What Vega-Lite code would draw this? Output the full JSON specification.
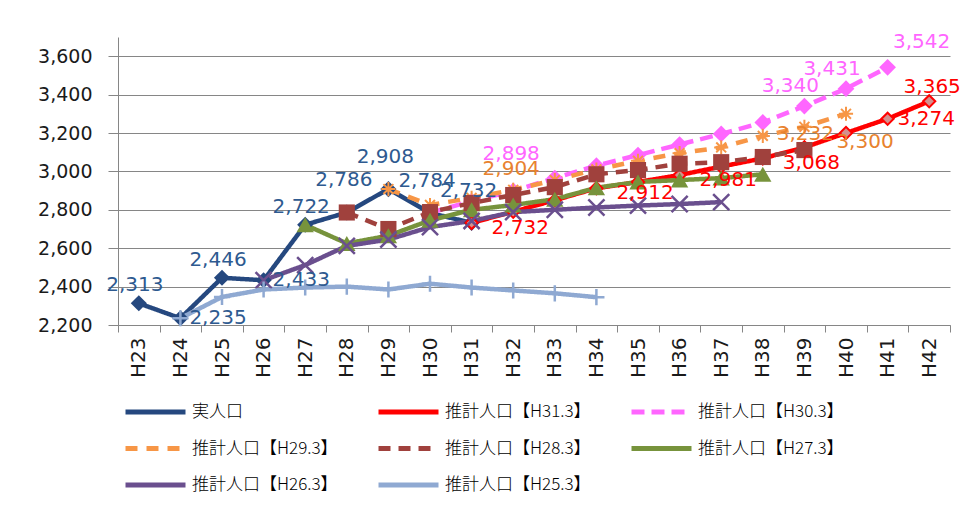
{
  "$schema": "https://vega.github.io/schema/vega-lite/v6.json",
  "width": 832,
  "height": 288,
  "autosize": {"type": "none"},
  "padding": {"left": 118, "top": 37, "right": 13, "bottom": 181},
  "background": "white",
  "config": {"view": {"stroke": null}, "font": "DejaVu Sans"},
  "data": {"values": [
    {"series": "実人口", "year": "H23", "value": 2313},
    {"series": "実人口", "year": "H24", "value": 2235},
    {"series": "実人口", "year": "H25", "value": 2446},
    {"series": "実人口", "year": "H26", "value": 2433},
    {"series": "実人口", "year": "H27", "value": 2722},
    {"series": "実人口", "year": "H28", "value": 2786},
    {"series": "実人口", "year": "H29", "value": 2908},
    {"series": "実人口", "year": "H30", "value": 2784},
    {"series": "実人口", "year": "H31", "value": 2732},
    {"series": "推計人口【H31.3】", "year": "H31", "value": 2732},
    {"series": "推計人口【H31.3】", "year": "H32", "value": 2790},
    {"series": "推計人口【H31.3】", "year": "H33", "value": 2850},
    {"series": "推計人口【H31.3】", "year": "H34", "value": 2912},
    {"series": "推計人口【H31.3】", "year": "H35", "value": 2945},
    {"series": "推計人口【H31.3】", "year": "H36", "value": 2981},
    {"series": "推計人口【H31.3】", "year": "H37", "value": 3025},
    {"series": "推計人口【H31.3】", "year": "H38", "value": 3068},
    {"series": "推計人口【H31.3】", "year": "H39", "value": 3125},
    {"series": "推計人口【H31.3】", "year": "H40", "value": 3200},
    {"series": "推計人口【H31.3】", "year": "H41", "value": 3274},
    {"series": "推計人口【H31.3】", "year": "H42", "value": 3365},
    {"series": "推計人口【H30.3】", "year": "H30", "value": 2784},
    {"series": "推計人口【H30.3】", "year": "H31", "value": 2845},
    {"series": "推計人口【H30.3】", "year": "H32", "value": 2898},
    {"series": "推計人口【H30.3】", "year": "H33", "value": 2965},
    {"series": "推計人口【H30.3】", "year": "H34", "value": 3030},
    {"series": "推計人口【H30.3】", "year": "H35", "value": 3085},
    {"series": "推計人口【H30.3】", "year": "H36", "value": 3140},
    {"series": "推計人口【H30.3】", "year": "H37", "value": 3195},
    {"series": "推計人口【H30.3】", "year": "H38", "value": 3255},
    {"series": "推計人口【H30.3】", "year": "H39", "value": 3340},
    {"series": "推計人口【H30.3】", "year": "H40", "value": 3431},
    {"series": "推計人口【H30.3】", "year": "H41", "value": 3542},
    {"series": "推計人口【H29.3】", "year": "H29", "value": 2908},
    {"series": "推計人口【H29.3】", "year": "H30", "value": 2825},
    {"series": "推計人口【H29.3】", "year": "H31", "value": 2862},
    {"series": "推計人口【H29.3】", "year": "H32", "value": 2904},
    {"series": "推計人口【H29.3】", "year": "H33", "value": 2955},
    {"series": "推計人口【H29.3】", "year": "H34", "value": 3010},
    {"series": "推計人口【H29.3】", "year": "H35", "value": 3055},
    {"series": "推計人口【H29.3】", "year": "H36", "value": 3095},
    {"series": "推計人口【H29.3】", "year": "H37", "value": 3125},
    {"series": "推計人口【H29.3】", "year": "H38", "value": 3185},
    {"series": "推計人口【H29.3】", "year": "H39", "value": 3232},
    {"series": "推計人口【H29.3】", "year": "H40", "value": 3300},
    {"series": "推計人口【H28.3】", "year": "H28", "value": 2786},
    {"series": "推計人口【H28.3】", "year": "H29", "value": 2700},
    {"series": "推計人口【H28.3】", "year": "H30", "value": 2788},
    {"series": "推計人口【H28.3】", "year": "H31", "value": 2835},
    {"series": "推計人口【H28.3】", "year": "H32", "value": 2877},
    {"series": "推計人口【H28.3】", "year": "H33", "value": 2918},
    {"series": "推計人口【H28.3】", "year": "H34", "value": 2985},
    {"series": "推計人口【H28.3】", "year": "H35", "value": 3007},
    {"series": "推計人口【H28.3】", "year": "H36", "value": 3040},
    {"series": "推計人口【H28.3】", "year": "H37", "value": 3048},
    {"series": "推計人口【H28.3】", "year": "H38", "value": 3075},
    {"series": "推計人口【H28.3】", "year": "H39", "value": 3111},
    {"series": "推計人口【H27.3】", "year": "H27", "value": 2722},
    {"series": "推計人口【H27.3】", "year": "H28", "value": 2625},
    {"series": "推計人口【H27.3】", "year": "H29", "value": 2665},
    {"series": "推計人口【H27.3】", "year": "H30", "value": 2745},
    {"series": "推計人口【H27.3】", "year": "H31", "value": 2800},
    {"series": "推計人口【H27.3】", "year": "H32", "value": 2825},
    {"series": "推計人口【H27.3】", "year": "H33", "value": 2855},
    {"series": "推計人口【H27.3】", "year": "H34", "value": 2915},
    {"series": "推計人口【H27.3】", "year": "H35", "value": 2945},
    {"series": "推計人口【H27.3】", "year": "H36", "value": 2955},
    {"series": "推計人口【H27.3】", "year": "H37", "value": 2965},
    {"series": "推計人口【H27.3】", "year": "H38", "value": 2985},
    {"series": "推計人口【H26.3】", "year": "H26", "value": 2433},
    {"series": "推計人口【H26.3】", "year": "H27", "value": 2512},
    {"series": "推計人口【H26.3】", "year": "H28", "value": 2612},
    {"series": "推計人口【H26.3】", "year": "H29", "value": 2645},
    {"series": "推計人口【H26.3】", "year": "H30", "value": 2710},
    {"series": "推計人口【H26.3】", "year": "H31", "value": 2742},
    {"series": "推計人口【H26.3】", "year": "H32", "value": 2788},
    {"series": "推計人口【H26.3】", "year": "H33", "value": 2800},
    {"series": "推計人口【H26.3】", "year": "H34", "value": 2812},
    {"series": "推計人口【H26.3】", "year": "H35", "value": 2822},
    {"series": "推計人口【H26.3】", "year": "H36", "value": 2830},
    {"series": "推計人口【H26.3】", "year": "H37", "value": 2840},
    {"series": "推計人口【H25.3】", "year": "H24", "value": 2235},
    {"series": "推計人口【H25.3】", "year": "H25", "value": 2346},
    {"series": "推計人口【H25.3】", "year": "H26", "value": 2385},
    {"series": "推計人口【H25.3】", "year": "H27", "value": 2395},
    {"series": "推計人口【H25.3】", "year": "H28", "value": 2400},
    {"series": "推計人口【H25.3】", "year": "H29", "value": 2385},
    {"series": "推計人口【H25.3】", "year": "H30", "value": 2415},
    {"series": "推計人口【H25.3】", "year": "H31", "value": 2395},
    {"series": "推計人口【H25.3】", "year": "H32", "value": 2380},
    {"series": "推計人口【H25.3】", "year": "H33", "value": 2365},
    {"series": "推計人口【H25.3】", "year": "H34", "value": 2345}
  ]},
  "encoding": {
    "x": {
      "field": "year", "type": "nominal", "bandPosition": 0.5,
      "scale": {"type": "band", "paddingInner": 0, "paddingOuter": 0,
        "domain": ["H23","H24","H25","H26","H27","H28","H29","H30","H31","H32","H33","H34","H35","H36","H37","H38","H39","H40","H41","H42"]},
      "axis": {"title": null, "labelAngle": -90, "labelFontSize": 20, "labelColor": "#1a1a1a", "tickBand": "extent", "tickSize": 7, "tickColor": "#868686", "domainColor": "#868686", "grid": false, "labelPadding": 5}
    },
    "y": {
      "field": "value", "type": "quantitative",
      "scale": {"domain": [2200, 3700], "nice": false, "zero": false},
      "axis": {"title": null, "values": [2200,2400,2600,2800,3000,3200,3400,3600], "format": ",.0f", "labelFontSize": 19, "labelColor": "#1a1a1a", "tickSize": 10, "tickColor": "#868686", "domainColor": "#868686", "gridColor": "#868686", "labelPadding": 16}
    }
  },
  "layer": [
    {
      "mark": {"type": "line", "strokeWidth": 4.5},
      "encoding": {
        "color": {"field": "series", "type": "nominal",
          "scale": {"domain": ["実人口","推計人口【H31.3】","推計人口【H30.3】","推計人口【H29.3】","推計人口【H28.3】","推計人口【H27.3】","推計人口【H26.3】","推計人口【H25.3】"],
            "range": ["#25487F","#FF0000","#FF66FF","#F79646","#A0413D","#77933C","#6A4F8E","#8FA9D2"]},
          "legend": {"orient": "none", "direction": "horizontal", "legendX": 5, "legendY": 364, "columns": 3, "title": null, "symbolType": "stroke", "symbolSize": 3600, "symbolStrokeWidth": 5, "clipHeight": 22, "labelFontSize": 17, "labelFont": "Noto Sans CJK JP", "labelFontWeight": 300, "labelColor": "#000000", "labelOffset": 4, "columnPadding": 38, "rowPadding": 14.5, "labelLimit": 300}},
        "strokeDash": {"field": "series", "type": "nominal",
          "scale": {"domain": ["実人口","推計人口【H31.3】","推計人口【H30.3】","推計人口【H29.3】","推計人口【H28.3】","推計人口【H27.3】","推計人口【H26.3】","推計人口【H25.3】"],
            "range": [[1,0],[1,0],[13,7],[12,9],[12,8],[1,0],[1,0],[1,0]]}}
      }
    },
    {"transform": [{"filter": "datum.series === '実人口'"}], "mark": {"type": "point", "shape": "diamond", "filled": true, "color": "#25487F", "size": 260, "opacity": 1}},
    {"transform": [{"filter": "datum.series === '推計人口【H31.3】'"}], "mark": {"type": "point", "shape": "diamond", "filled": true, "fill": "#D4908E", "stroke": "#FF0000", "strokeWidth": 2, "size": 150, "opacity": 1}},
    {"transform": [{"filter": "datum.series === '推計人口【H30.3】'"}], "mark": {"type": "point", "shape": "diamond", "filled": true, "color": "#FF66FF", "size": 280, "opacity": 1}},
    {"transform": [{"filter": "datum.series === '推計人口【H29.3】'"}], "mark": {"type": "point", "shape": "M-1,0H1M0,-1V1M-0.7,-0.7L0.7,0.7M-0.7,0.7L0.7,-0.7", "filled": false, "color": "#F79646", "strokeWidth": 2, "size": 200, "opacity": 1}},
    {"transform": [{"filter": "datum.series === '推計人口【H28.3】'"}], "mark": {"type": "point", "shape": "square", "filled": true, "color": "#A0413D", "size": 260, "opacity": 1}},
    {"transform": [{"filter": "datum.series === '推計人口【H27.3】'"}], "mark": {"type": "point", "shape": "triangle-up", "filled": true, "color": "#77933C", "size": 300, "opacity": 1}},
    {"transform": [{"filter": "datum.series === '推計人口【H26.3】'"}], "mark": {"type": "point", "shape": "M-1,-1L1,1M-1,1L1,-1", "filled": false, "color": "#6A4F8E", "strokeWidth": 2.5, "size": 260, "opacity": 1}},
    {"transform": [{"filter": "datum.series === '推計人口【H25.3】'"}], "mark": {"type": "point", "shape": "M-1,0H1M0,-1V1", "filled": false, "color": "#8FA9D2", "strokeWidth": 2.5, "size": 260, "opacity": 1}},
    {"transform": [{"filter": "datum.series === '実人口' && indexof(['H23','H25','H27'], datum.year) >= 0"}],
     "mark": {"type": "text", "fontSize": 20, "color": "#2E5A90", "dx": -4, "dy": -18, "baseline": "middle", "align": "center"},
     "encoding": {"text": {"field": "value", "type": "quantitative", "format": ","}}},
    {"transform": [{"filter": "datum.series === '実人口' && indexof(['H28','H29','H30','H31'], datum.year) >= 0"}],
     "mark": {"type": "text", "fontSize": 20, "color": "#2E5A90", "dx": -3, "dy": -32, "baseline": "middle", "align": "center"},
     "encoding": {"text": {"field": "value", "type": "quantitative", "format": ","}}},
    {"transform": [{"filter": "datum.series === '実人口' && indexof(['H24','H26'], datum.year) >= 0"}],
     "mark": {"type": "text", "fontSize": 20, "color": "#2E5A90", "dx": 9, "dy": 0, "baseline": "middle", "align": "left"},
     "encoding": {"text": {"field": "value", "type": "quantitative", "format": ","}}},
    {"transform": [{"filter": "datum.series === '推計人口【H31.3】' && indexof(['H31','H34','H36','H38'], datum.year) >= 0"}],
     "mark": {"type": "text", "fontSize": 20, "color": "#FF0000", "dx": 20, "dy": 5, "baseline": "middle", "align": "left"},
     "encoding": {"text": {"field": "value", "type": "quantitative", "format": ","}}},
    {"transform": [{"filter": "datum.series === '推計人口【H31.3】' && datum.year === 'H41'"}],
     "mark": {"type": "text", "fontSize": 20, "color": "#FF0000", "dx": 10, "dy": 0, "baseline": "middle", "align": "left"},
     "encoding": {"text": {"field": "value", "type": "quantitative", "format": ","}}},
    {"transform": [{"filter": "datum.series === '推計人口【H31.3】' && datum.year === 'H42'"}],
     "mark": {"type": "text", "fontSize": 20, "color": "#FF0000", "dx": 3, "dy": -14, "baseline": "middle", "align": "center"},
     "encoding": {"text": {"field": "value", "type": "quantitative", "format": ","}}},
    {"transform": [{"filter": "datum.series === '推計人口【H29.3】' && datum.year === 'H32'"}],
     "mark": {"type": "text", "fontSize": 20, "color": "#E8822E", "dx": -2, "dy": -21, "baseline": "middle", "align": "center"},
     "encoding": {"text": {"field": "value", "type": "quantitative", "format": ","}}},
    {"transform": [{"filter": "datum.series === '推計人口【H29.3】' && datum.year === 'H39'"}],
     "mark": {"type": "text", "fontSize": 20, "color": "#E8822E", "dx": 1, "dy": 7, "baseline": "middle", "align": "center"},
     "encoding": {"text": {"field": "value", "type": "quantitative", "format": ","}}},
    {"transform": [{"filter": "datum.series === '推計人口【H29.3】' && datum.year === 'H40'"}],
     "mark": {"type": "text", "fontSize": 20, "color": "#E8822E", "dx": 19, "dy": 28, "baseline": "middle", "align": "center"},
     "encoding": {"text": {"field": "value", "type": "quantitative", "format": ","}}},
    {"transform": [{"filter": "datum.series === '推計人口【H30.3】' && datum.year === 'H32'"}],
     "mark": {"type": "text", "fontSize": 20, "color": "#FF66FF", "dx": -2, "dy": -37, "baseline": "middle", "align": "center"},
     "encoding": {"text": {"field": "value", "type": "quantitative", "format": ","}}},
    {"transform": [{"filter": "datum.series === '推計人口【H30.3】' && indexof(['H39','H40'], datum.year) >= 0"}],
     "mark": {"type": "text", "fontSize": 20, "color": "#FF66FF", "dx": -14, "dy": -20, "baseline": "middle", "align": "center"},
     "encoding": {"text": {"field": "value", "type": "quantitative", "format": ","}}},
    {"transform": [{"filter": "datum.series === '推計人口【H30.3】' && datum.year === 'H41'"}],
     "mark": {"type": "text", "fontSize": 20, "color": "#FF66FF", "dx": 34, "dy": -25, "baseline": "middle", "align": "center"},
     "encoding": {"text": {"field": "value", "type": "quantitative", "format": ","}}}
  ]
}
